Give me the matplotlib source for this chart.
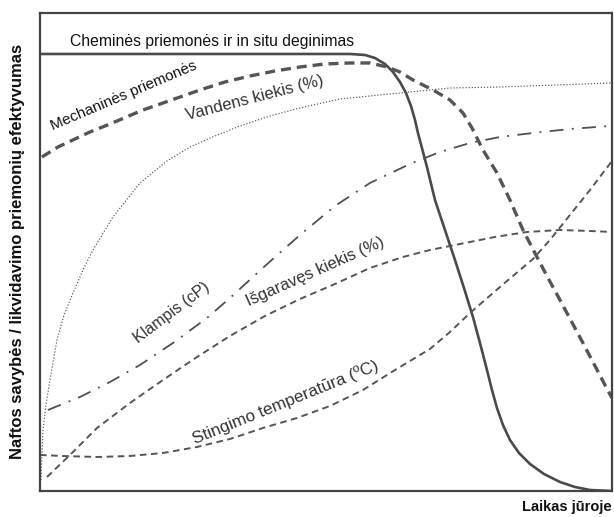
import matplotlib
matplotlib.use("Agg")
import matplotlib.pyplot as plt

plt.rcParams['font.family'] = ['Liberation Sans', 'DejaVu Sans']
plt.rcParams['lines.scale_dashes'] = False

# Conceptual chart: arbitrary units (time along x, property / efficiency along y)
chem_t = [0, 310, 325, 335, 345, 353, 360, 366, 371, 375, 378, 387, 395, 405, 415, 424, 433,
          440, 447, 452, 457, 463, 470, 479, 490, 504, 520, 535, 550, 572]
chem_v = [437, 437, 436, 433, 427, 419, 409, 398, 385, 371, 358, 324, 291, 261, 231, 203, 174,
          148, 121, 101, 83, 66, 51, 38, 27, 17, 9, 4, 1, 0]

mech_t = [2, 18, 35, 50, 70, 103, 123, 143, 160, 185, 210, 235, 260, 285, 310, 330, 347, 360,
          373, 393, 410, 423, 432, 443, 457, 470, 483, 497, 508, 520, 543, 565, 572]
mech_v = [334, 344, 352, 359, 367, 381, 388, 395, 401, 409, 415, 420, 424, 427, 428, 428, 424, 419,
          411, 401, 391, 378, 363, 341, 318, 291, 261, 234, 213, 191, 148, 106, 93]

water_t = [1, 2, 3, 6, 10, 17, 24, 33, 43, 53, 73, 100, 127, 150, 175, 200, 230, 260, 300, 360,
           410, 460, 572]
water_v = [11, 36, 61, 86, 111, 151, 176, 198, 221, 241, 274, 308, 330, 344, 355, 365, 375, 383,
           392, 398, 403, 404, 408]

visc_t = [8, 40, 70, 100, 133, 167, 190, 225, 260, 295, 330, 370, 400, 430, 460, 493, 530, 570]
visc_v = [81, 94, 109, 126, 148, 173, 193, 225, 256, 285, 308, 327, 339, 348, 354, 358, 362, 365]

evap_t = [7, 30, 57, 90, 123, 157, 190, 225, 260, 295, 330, 363, 390, 420, 455, 487, 520, 550, 572]
evap_v = [14, 36, 63, 88, 111, 134, 155, 175, 192, 207, 223, 234, 241, 247, 254, 259, 261, 260, 259]

pour_t = [0, 23, 57, 90, 123, 157, 190, 223, 257, 290, 323, 355, 390, 410, 430, 460, 493, 510,
          530, 550, 572]
pour_v = [36, 35, 34, 35, 38, 44, 52, 63, 73, 85, 101, 121, 142, 159, 178, 204, 232, 251,
          276, 301, 330]

fig = plt.figure(figsize=(6.14, 5.17), dpi=100)
ax = fig.add_axes([0.0651, 0.0503, 0.9316, 0.9246])
ax.set_xlim(0, 572)
ax.set_ylim(0, 478)
ax.set_xticks([])
ax.set_yticks([])
for s in ax.spines.values():
    s.set_color('#444444')
    s.set_linewidth(1.6)

ax.plot(chem_t, chem_v, color='#4a4a4a', lw=1.9, solid_capstyle='butt', solid_joinstyle='round')
ax.plot(mech_t, mech_v, color='#555555', lw=2.4, linestyle=(0, (7.2, 4.3)))
ax.plot(water_t, water_v, color='#5a5a5a', lw=0.85, linestyle=(0, (0.9, 1.3)))
ax.plot(visc_t, visc_v, color='#505050', lw=1.3, linestyle=(0, (10, 6, 1.4, 6)))
ax.plot(evap_t, evap_v, color='#555555', lw=1.4, linestyle=(0, (4.8, 3.2)))
ax.plot(pour_t, pour_v, color='#555555', lw=1.4, linestyle=(0, (4.8, 3.2)))

txt = dict(rotation_mode='anchor', ha='center', va='center')
ax.text(30, 449, 'Cheminės priemonės ir in situ deginimas', fontsize=11.3, color='#111111',
        ha='left', va='center')
ax.text(84, 395, 'Mechaninės priemonės', fontsize=11, color='#111111', rotation=23, **txt)
ax.text(215, 393, 'Vandens kiekis (%)', fontsize=12, color='#333333', rotation=14.5, **txt)
ax.text(132, 178, 'Klampis (cP)', fontsize=11.5, color='#333333', rotation=37, **txt)
ax.text(275, 219, 'Išgaravęs kiekis (%)', fontsize=12, color='#333333', rotation=24, **txt)
ax.text(245, 89, 'Stingimo temperatūra (ºC)', fontsize=12.3, color='#333333', rotation=22, **txt)

fig.text(0.028, 0.513, 'Naftos savybės / likvidavimo priemonių efektyvumas', rotation=90,
         fontsize=12, fontweight='bold', ha='center', va='center', color='#111111')
fig.text(0.923, 0.019, 'Laikas jūroje', fontsize=10.5, fontweight='bold', ha='center',
         va='center', color='#111111')

fig.savefig('out.png', dpi=100, facecolor='white')
